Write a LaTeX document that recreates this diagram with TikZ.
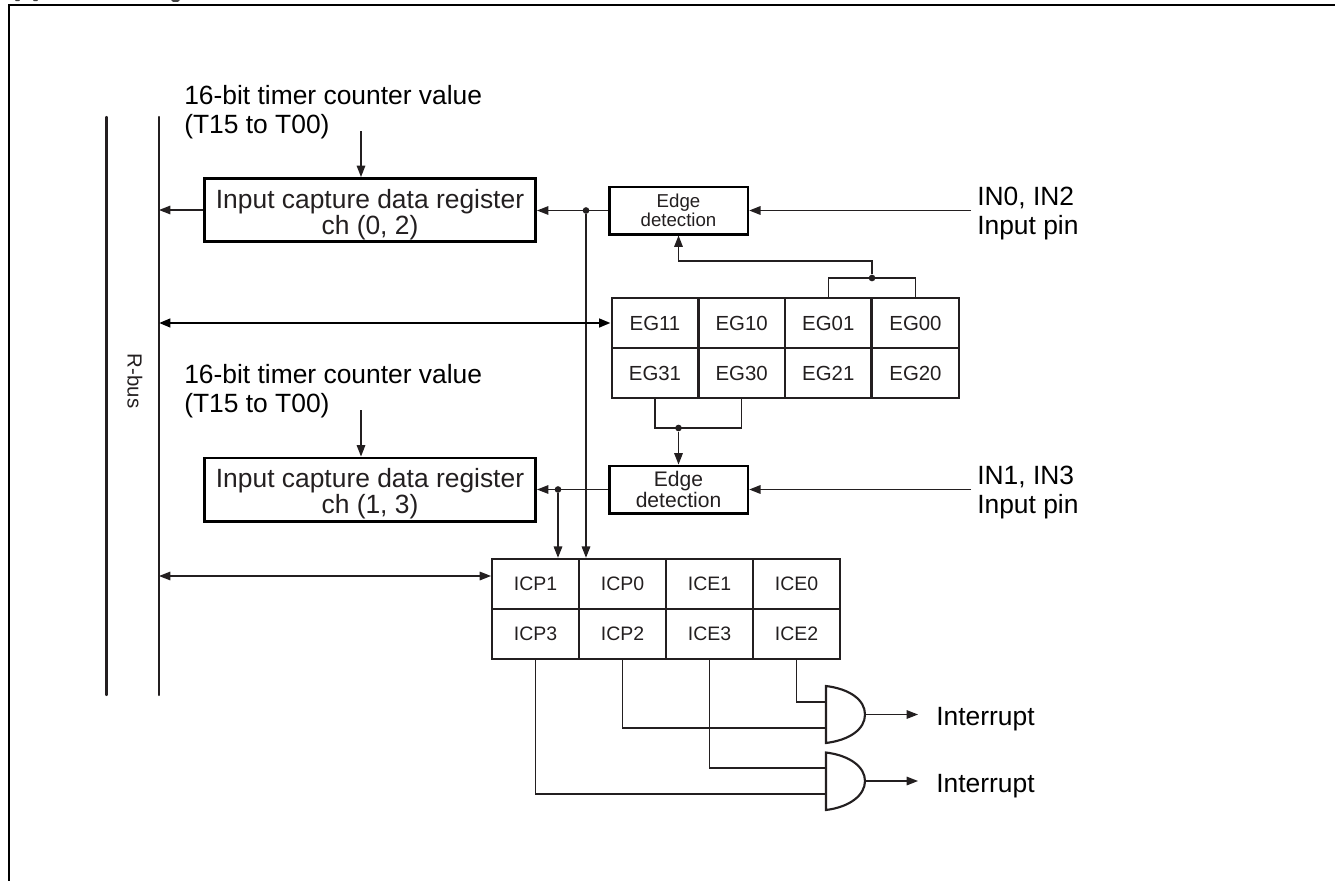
\documentclass[tikz,border=0pt]{standalone}
\usepackage{fontspec}
\setmainfont{Liberation Sans}
\usetikzlibrary{arrows.meta,calc}
\definecolor{ink}{HTML}{231F20}
\newcommand{\bigtxt}{\fontsize{19.8}{21.3}\selectfont}
\newcommand{\celltxt}{\fontsize{14.6}{16}\selectfont}
\newcommand{\egtxt}{\fontsize{15.3}{16}\selectfont}
\newcommand{\edgeAtxt}{\fontsize{14}{14}\selectfont}
\newcommand{\edgeBtxt}{\fontsize{15.8}{15.8}\selectfont}
\tikzset{
  x=0.75pt,y=-0.75pt,
  frameline/.style={draw=black,line width=1.6pt},
  busline/.style={draw=ink,line width=1.7pt,line cap=round},
  conn/.style={draw=ink,line width=1.05pt},
  arr/.style={conn,-{Triangle[length=8.5pt,width=6.4pt]}},
  heavyarr/.style={draw=black,line width=1.8pt,{Triangle[length=8.5pt,width=6.4pt]}-{Triangle[length=8.5pt,width=6.4pt]}},
  duoarr/.style={conn,{Triangle[length=8.5pt,width=6.4pt]}-{Triangle[length=8.5pt,width=6.4pt]}},
  regbox/.style={draw=black,line width=2pt,minimum width=248.5pt,minimum height=47.5pt,inner sep=0pt,align=center,text=ink},
  edgebox/.style={draw=black,line width=2pt,minimum width=104pt,minimum height=35.5pt,inner sep=0pt,align=center,text=ink},
  cell/.style={draw=ink,line width=1.8pt,minimum width=64.9pt,minimum height=37.5pt,inner sep=0pt,font=\celltxt,text=ink},
  egcell/.style={cell,font=\egtxt},
  lbl/.style={anchor=base west,inner sep=0pt,font=\bigtxt,text=black},
  dot/.style={circle,fill=ink,inner sep=0pt,minimum size=5pt},
  gate/.style={draw=ink,line width=1.6pt,fill=white},
}
\begin{document}
\begin{tikzpicture}
\useasboundingbox (0,0) rectangle (1335,881);
% cut-off heading at the top edge
\fill[black!75] (15,0) -- (20,0) -- (19,1.2) -- (16,1.2) -- cycle (33,0) -- (38,0) -- (37,1.2) -- (34,1.2) -- cycle (171,0) -- (180,0) -- (178,1.8) -- (173,1.8) -- cycle;
\draw[frameline] (9.3,881) -- (9.3,5) -- (1335,5);
% bus
\coordinate (busLtop) at (106.5,117); \coordinate (busLbot) at (106.5,695);
\coordinate (busRtop) at (159,117); \coordinate (busRbot) at (159,695);
\draw[busline] (busLtop) -- (busLbot);
\draw[busline] (busRtop) -- (busRbot);
\node[rotate=-90,font=\fontsize{15.3}{16}\selectfont,text=ink,inner sep=0pt] (rbus) at (135,381) {R-bus};
% registers and edge detection
\node[regbox] (regA) at (370,210) {\bigtxt\rule{0pt}{21pt}Input capture data register\\\bigtxt ch (0, 2)};
\node[regbox] (regB) at (370,489.5) {\bigtxt\rule{0pt}{21pt}Input capture data register\\\bigtxt ch (1, 3)};
\node[edgebox,font=\edgeAtxt] (edgeA) at (678.5,210.5) {Edge\\detection};
\node[edgebox,font=\edgeBtxt] (edgeB) at (678.5,489.5) {Edge\\detection};
% labels
\node[lbl] (tcA) at (184,104) {16-bit timer counter value};
\node[lbl] (tcB) at (184,133) {(T15 to T00)};
\node[lbl] (tcC) at (184,383) {16-bit timer counter value};
\node[lbl] (tcD) at (184,412) {(T15 to T00)};
\node[lbl] (inA) at (977,205) {IN0, IN2};
\node[lbl] (inB) at (977,234) {Input pin};
\node[lbl] (inC) at (977,484) {IN1, IN3};
\node[lbl] (inD) at (977,513) {Input pin};
\node[lbl] (intA) at (936,725) {Interrupt};
\node[lbl] (intB) at (936,792) {Interrupt};
% EG table
\node[egcell] (eg11) at (655,323) {EG11};
\node[egcell] (eg10) at (741.7,323) {EG10};
\node[egcell] (eg01) at (828.3,323) {EG01};
\node[egcell] (eg00) at (915.5,323) {EG00};
\node[egcell] (eg31) at (655,373) {EG31};
\node[egcell] (eg30) at (741.7,373) {EG30};
\node[egcell] (eg21) at (828.3,373) {EG21};
\node[egcell] (eg20) at (915.5,373) {EG20};
% ICP table
\node[cell] (icp1) at (535.5,584) {ICP1};
\node[cell] (icp0) at (622.5,584) {ICP0};
\node[cell] (ice1) at (709.5,584) {ICE1};
\node[cell] (ice0) at (796.5,584) {ICE0};
\node[cell] (icp3) at (535.5,634) {ICP3};
\node[cell] (icp2) at (622.5,634) {ICP2};
\node[cell] (ice3) at (709.5,634) {ICE3};
\node[cell] (ice2) at (796.5,634) {ICE2};
% junctions
\node[dot] (jA) at (586,210.5) {};
\node[dot] (jB) at (558,489.5) {};
\node[dot] (jC) at (872,278) {};
\node[dot] (jD) at (678.5,428) {};
% free ends
\coordinate (pinA) at (971,210.5);
\coordinate (pinB) at (971,489.5);
\coordinate (tcAend) at (361,131);
\coordinate (tcBend) at (361,410);
% gates
\coordinate (gAin1) at (826,702);
\coordinate (gAin2) at (826,728);
\coordinate (gAout) at (865,714.5);
\coordinate (gBin1) at (826,768);
\coordinate (gBin2) at (826,794);
\coordinate (gBout) at (865,781);
\coordinate (outA) at (918,714.5);
\coordinate (outB) at (918,781);
% connectors
\draw[arr] (tcAend) -- (tcAend |- regA.north);
\draw[arr] (tcBend) -- (tcBend |- regB.north);
\draw[arr] (regA.west) -- (regA.west -| busRbot);
\draw[arr] (edgeA.west) -- (regA.east |- edgeA.west);
\draw[arr] (edgeB.west) -- (regB.east);
\draw[arr] (pinA) -- (edgeA.east);
\draw[arr] (pinB) -- (edgeB.east);
\draw[arr] (jA) -- (jA |- icp0.north);
\draw[arr] (jB) -- (jB |- icp1.north);
\draw[heavyarr] (eg11.west -| busRbot) -- (eg11.west);
\draw[duoarr] (busRbot |- 0,576) -- (icp1.west |- 0,576);
\draw[conn] (eg01.north) -- (eg01.north |- jC) -- (eg00.north |- jC) -- (eg00.north);
\draw[arr] (jC) -- (jC |- 0,261) -- (edgeA.south |- 0,261) -- (edgeA.south);
\draw[conn] (eg31.south) -- (eg31.south |- jD) -- (eg30.south |- jD) -- (eg30.south);
\draw[arr] (jD) -- (edgeB.north);
\draw[conn] (ice2.south) -- (ice2.south |- gAin1) -- (gAin1);
\draw[conn] (icp2.south) -- (icp2.south |- gAin2) -- (gAin2);
\draw[conn] (ice3.south) -- (ice3.south |- gBin1) -- (gBin1);
\draw[conn] (icp3.south) -- (icp3.south |- gBin2) -- (gBin2);
\draw[arr] (gAout) -- (outA);
\draw[arr] (gBout) -- (outB);
% AND gates
\path[gate] (826,686) .. controls (850,689) and (865,700) .. (gAout) .. controls (865,729) and (850,740) .. (826,743) -- cycle;
\path[gate] (826,752.5) .. controls (850,755.5) and (865,767) .. (gBout) .. controls (865,795) and (850,807) .. (826,810) -- cycle;
\end{tikzpicture}
\end{document}
